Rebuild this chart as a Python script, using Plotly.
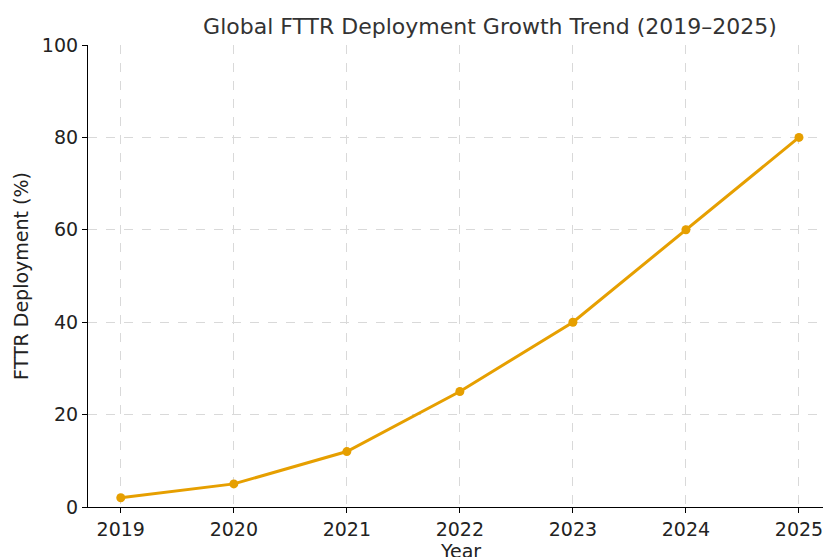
import plotly.graph_objects as go

years = [2019, 2020, 2021, 2022, 2023, 2024, 2025]
deployment = [2, 5, 12, 25, 40, 60, 80]

fig = go.Figure()
fig.add_trace(
    go.Scatter(
        x=years,
        y=deployment,
        mode="lines+markers",
        line=dict(color="#E69F00", width=3),
        marker=dict(size=9, color="#E69F00"),
    )
)
axis_common = dict(
    showline=True,
    linecolor="black",
    linewidth=1.2,
    ticks="outside",
    ticklen=5,
    tickcolor="black",
    showgrid=True,
    gridcolor="#d9d9d9",
    griddash="dash",
    gridwidth=0.8,
    zeroline=False,
    automargin=False,
    tickfont=dict(size=19, color="#222"),
    title_font=dict(size=19, color="#222"),
)
fig.update_xaxes(
    axis_common, title_text="Year", range=[2018.71, 2025.31], tickvals=years, title_standoff=4
)
fig.update_yaxes(
    axis_common, title_text="FTTR Deployment (%)", range=[0, 100], dtick=20, title_standoff=8
)
fig.update_layout(
    width=831,
    height=557,
    template="simple_white",
    font=dict(family="DejaVu Sans"),
    title=dict(text="Global FTTR Deployment Growth Trend (2019–2025)", x=0.58, xanchor="center",
               y=0.967, yanchor="middle", font=dict(size=22, color="#333")),
    margin=dict(l=80, r=5, t=37, b=58, autoexpand=False),
    showlegend=False,
    plot_bgcolor="white",
)
fig.write_html("out.html")
